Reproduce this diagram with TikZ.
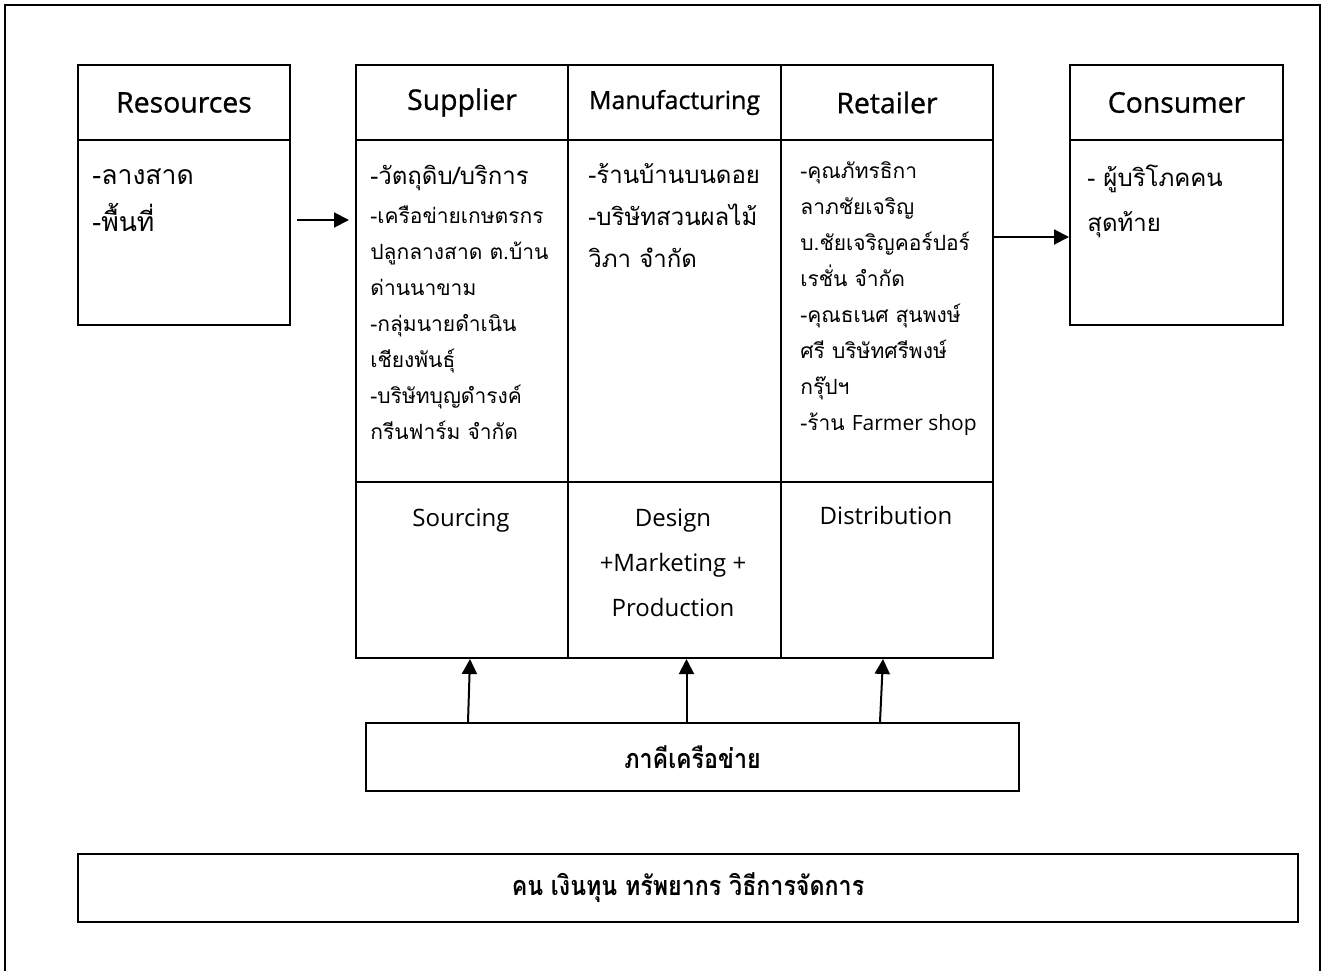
\documentclass[tikz,border=0pt]{standalone}
\usepackage{fontspec}
\setmainfont{Open Sans}
\newfontfamily\headfont[FakeBold=0.9]{Open Sans}
\newfontfamily\thai[Script=Thai]{Loma}
\newfontfamily\thaibold[Script=Thai,FakeStretch=0.86]{Loma Bold}
\usetikzlibrary{arrows.meta}

\begin{document}
\begin{tikzpicture}[x=0.5pt,y=-0.5pt,
    box/.style={draw,line width=1pt,anchor=north west,inner sep=0pt},
    txt/.style={anchor=north west,align=left,inner sep=0pt},
    head/.style={font=\headfont\fontsize{14.2}{16}\selectfont},
    big/.style={font=\thai\fontsize{12}{21}\selectfont},
    small/.style={font=\thai\fontsize{10.5}{18}\selectfont},
    low/.style={anchor=north,align=center,inner sep=0pt,font=\fontsize{12}{22.5}\selectfont},
    foot/.style={font=\thaibold\fontsize{13.5}{16}\selectfont},
    arr/.style={-{Triangle[length=7.5pt,width=7.5pt]},line width=1pt}]
    \useasboundingbox (0,0) rectangle (1323,970);
    \draw[line width=1pt] (5,980) -- (5,5) -- (1320,5) -- (1320,980);

    \node[box,head,minimum width=106pt,minimum height=37.5pt](a) at (77,64) {Resources};
    \node[box,minimum width=106pt,minimum height=92.5pt](a1) at (77,139) {};
    \node[txt,font=\thai\fontsize{13.3}{23.5}\selectfont](a2) at (92,168) {-ลางสาด\\-พื้นที่};

    \node[box,head,minimum width=106pt,minimum height=37.5pt](b) at (355,64) {Supplier};
    \node[box,head,font=\headfont\fontsize{12.5}{14}\selectfont,minimum width=106.5pt,minimum height=37.5pt](c) at (567,64) {Manufacturing};
    \node[box,head,minimum width=106pt,minimum height=37.5pt](d) at (780,64) {Retailer};
    \node[box,minimum width=106pt,minimum height=171pt](b1) at (355,139) {};
    \node[box,minimum width=106.5pt,minimum height=171pt](c1) at (567,139) {};
    \node[box,minimum width=106pt,minimum height=171pt](d1) at (780,139) {};
    \node[box,minimum width=106pt,minimum height=88pt](b2) at (355,481) {};
    \node[box,minimum width=106.5pt,minimum height=88pt](c2) at (567,481) {};
    \node[box,minimum width=106pt,minimum height=88pt](d2) at (780,481) {};

    \node[txt,big](b4) at (370,165) {-วัตถุดิบ/บริการ};
    \node[txt,small](b5) at (370,205) {-เครือข่ายเกษตรกร\\ปลูกลางสาด ต.บ้าน\\ด่านนาขาม\\-กลุ่มนายดำเนิน\\เชียงพันธุ์\\-บริษัทบุญดำรงค์\\กรีนฟาร์ม จำกัด};
    \node[txt,big](c4) at (588,163) {-ร้านบ้านบนดอย\\-บริษัทสวนผลไม้\\วิภา จำกัด};
    \node[txt,small](d4) at (800,161) {-คุณภัทรธิกา\\ลาภชัยเจริญ\\บ.ชัยเจริญคอร์ปอร์\\เรชั่น จำกัด\\-คุณธเนศ สุนพงษ์\\ศรี บริษัทศรีพงษ์\\กรุ๊ปฯ\\-ร้าน {\fontspec{Open Sans}Farmer shop}};

    \node[low](b3) at (461,508) {Sourcing};
    \node[low](c3) at (673,508) {Design\\+Marketing +\\Production};
    \node[low](d3) at (886,506) {Distribution};

    \node[box,head,minimum width=106.5pt,minimum height=37.5pt](e) at (1069,64) {Consumer};
    \node[box,minimum width=106.5pt,minimum height=92.5pt](e1) at (1069,139) {};
    \node[txt,font=\thai\fontsize{12}{22.5}\selectfont](e2) at (1087,164) {- ผู้บริโภคคน\\สุดท้าย};

    \node[box,foot,minimum width=326.5pt,minimum height=34pt](f) at (365,722) {ภาคีเครือข่าย};
    \node[box,foot,minimum width=610pt,minimum height=34pt](g) at (77,853) {คน เงินทุน ทรัพยากร วิธีการจัดการ};

    \draw[arr] ([xshift=3pt,yshift=6.25pt]a1.east) -- ([xshift=-3pt,yshift=6.25pt]a1.east -| b1.west);
    \draw[arr] ([yshift=-2.25pt]e1.west -| d1.east) -- ([yshift=-2.25pt]e1.west);
    \draw[arr] ([xshift=3pt]b2.south |- f.north) -- ([xshift=4pt]b2.south);
    \draw[arr] ([xshift=6pt]c2.south |- f.north) -- ([xshift=6pt]c2.south);
    \draw[arr] ([xshift=-3.5pt]d2.south |- f.north) -- ([xshift=-2pt]d2.south);
\end{tikzpicture}
\end{document}
